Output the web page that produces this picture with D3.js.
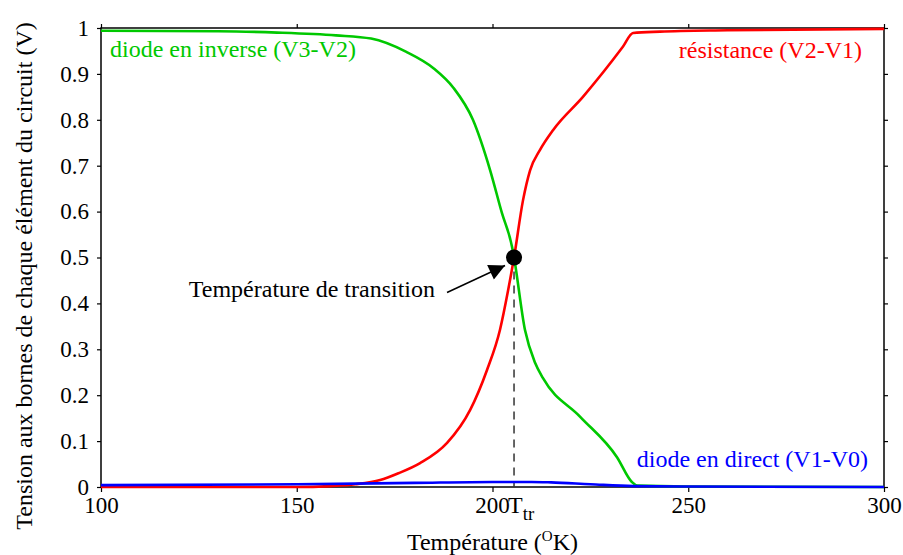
<!DOCTYPE html>
<html>
<head>
<meta charset="utf-8">
<script src="https://cdn.jsdelivr.net/npm/d3@7"></script>
<style>
  html, body { margin: 0; padding: 0; background: #fff; }
  svg { display: block; }
</style>
</head>
<body>
<svg id="chart" width="903" height="555"></svg>
<script>
// Temperature (K) samples and voltages across each circuit element
const tempInverse = [100, 130, 145, 160, 169, 178, 185, 190, 195, 199.4, 202.4, 205.0, 205.5, 208.3, 210.9, 212.9, 222.4, 231.8, 235.6, 237, 250, 300];
const voltInverse = [0.994, 0.993, 0.990, 0.984, 0.977, 0.948, 0.912, 0.870, 0.800, 0.690, 0.597, 0.523, 0.500, 0.342, 0.270, 0.237, 0.153, 0.065, 0.011, 0.003, 0.001, 0.0];

const tempResist = [100, 150, 158.5, 165, 171.3, 176, 181.5, 188.4, 194.3, 198.6, 201.9, 204.0, 205.5, 207.8, 209.6, 212.1, 215.5, 223.1, 233.3, 235.9, 242.8, 260, 300];
const voltResist = [0.0, 0.0, 0.002, 0.006, 0.015, 0.030, 0.052, 0.096, 0.168, 0.255, 0.342, 0.429, 0.500, 0.625, 0.690, 0.734, 0.778, 0.850, 0.959, 0.989, 0.992, 0.995, 0.998];

const tempDirect = [100, 150, 180, 200, 210, 215, 225, 236, 250, 300];
const voltDirect = [0.004, 0.006, 0.009, 0.011, 0.011, 0.010, 0.006, 0.002, 0.001, 0.0];

// Transition point
const tTransition = 205.5;
const vTransition = 0.5;

// Axis ticks
const xTicks = [100, 150, 200, 250, 300];
const xTickLabels = ["100", "150", "200", "250", "300"];
const yTicks = [0, 0.1, 0.2, 0.3, 0.4, 0.5, 0.6, 0.7, 0.8, 0.9, 1];
const yTickLabels = ["0", "0.1", "0.2", "0.3", "0.4", "0.5", "0.6", "0.7", "0.8", "0.9", "1"];

const seriesNames = ["diode en inverse (V3-V2)", "résistance (V2-V1)", "diode en direct (V1-V0)"];
const seriesColors = ["#00c800", "#ff0000", "#0000ff"];

const W = 903, H = 555;
const margin = { top: 28, right: 19, bottom: 68, left: 101 };
const iw = W - margin.left - margin.right;
const ih = H - margin.top - margin.bottom;
const fs = 24;      // labels and titles
const fsTick = 23;  // tick labels
const serif = '"Liberation Serif", serif';

const svg = d3.select("#chart");
const g = svg.append("g").attr("transform", `translate(${margin.left},${margin.top})`);

const x = d3.scaleLinear().domain([100, 300]).range([0, iw]);
const y = d3.scaleLinear().domain([0, 1]).range([ih, 0]);

// Axes on all four sides
function styleAxis(sel) {
  sel.select(".domain").remove();
  sel.selectAll(".tick line").attr("stroke", "#000").attr("stroke-width", 1.2);
}
const axisB = g.append("g").attr("transform", `translate(0,${ih})`)
  .call(d3.axisBottom(x).tickValues(xTicks).tickSize(5).tickFormat((d, i) => d === 200 ? "" : xTickLabels[i]));
styleAxis(axisB);
axisB.selectAll(".tick text").attr("font-size", fsTick).attr("fill", "#000").attr("dy", 0).attr("y", 26);

const axisT = g.append("g").call(d3.axisTop(x).tickValues(xTicks).tickSize(4).tickFormat(""));
styleAxis(axisT);

const axisL = g.append("g").call(d3.axisLeft(y).tickValues(yTicks).tickSize(4).tickFormat((d, i) => yTickLabels[i]));
styleAxis(axisL);
axisL.selectAll(".tick text").attr("font-size", fsTick).attr("fill", "#000").attr("x", -12);

const axisR = g.append("g").attr("transform", `translate(${iw},0)`)
  .call(d3.axisRight(y).tickValues(yTicks).tickSize(4).tickFormat(""));
styleAxis(axisR);

// frame
g.append("rect").attr("width", iw).attr("height", ih)
  .attr("fill", "none").attr("stroke", "#000").attr("stroke-width", 1.5);

// "200" with the transition label T_tr beside it
g.append("text").attr("x", x(200)).attr("y", ih + 26)
  .attr("text-anchor", "middle").attr("font-size", fsTick).text("200");
const tLbl = g.append("text").attr("x", x(tTransition) - 6).attr("y", ih + 26).attr("font-size", fs);
tLbl.append("tspan").text("T");
tLbl.append("tspan").attr("dy", 7).attr("font-size", fs * 0.78).text("tr");

// Curves
const line = d3.line().x(d => x(d[0])).y(d => y(d[1])).curve(d3.curveMonotoneX);
const series = [
  d3.zip(tempInverse, voltInverse),
  d3.zip(tempResist, voltResist),
  d3.zip(tempDirect, voltDirect)
];

// dashed drop line from the transition point
g.append("line")
  .attr("x1", x(tTransition)).attr("x2", x(tTransition))
  .attr("y1", y(vTransition)).attr("y2", ih)
  .attr("stroke", "#333").attr("stroke-width", 1.5).attr("stroke-dasharray", "8,6");

[0, 1, 2].forEach(i => {
  g.append("path").datum(series[i])
    .attr("d", line)
    .attr("fill", "none")
    .attr("stroke", seriesColors[i])
    .attr("stroke-width", 2.6)
    .attr("stroke-linejoin", "round");
});

// transition point
g.append("circle").attr("cx", x(tTransition)).attr("cy", y(vTransition)).attr("r", 8).attr("fill", "#000");

// annotation arrow
svg.append("defs").append("marker")
  .attr("id", "head").attr("viewBox", "0 0 10 10")
  .attr("refX", 10).attr("refY", 5)
  .attr("markerWidth", 30).attr("markerHeight", 16)
  .attr("markerUnits", "userSpaceOnUse")
  .attr("orient", "auto")
  .append("path").attr("d", "M0,0 L10,5 L0,10 Z").attr("fill", "#000");

const px = x(tTransition), py = y(vTransition);
g.append("line")
  .attr("x1", px - 67).attr("y1", py + 35)
  .attr("x2", px - 9).attr("y2", py + 8)
  .attr("stroke", "#000").attr("stroke-width", 1.5)
  .attr("marker-end", "url(#head)");

g.append("text").attr("x", px - 79).attr("y", py + 39)
  .attr("text-anchor", "end").attr("font-size", fs)
  .text("Température de transition");

// series labels
g.append("text").attr("x", 9).attr("y", 29).attr("font-size", fs)
  .attr("fill", seriesColors[0]).text(seriesNames[0]);
g.append("text").attr("x", iw - 22).attr("y", 30).attr("font-size", fs)
  .attr("text-anchor", "end").attr("fill", seriesColors[1]).text(seriesNames[1]);
g.append("text").attr("x", iw - 16).attr("y", ih - 20).attr("font-size", fs)
  .attr("text-anchor", "end").attr("fill", seriesColors[2]).text(seriesNames[2]);

// axis titles
const xt = svg.append("text").attr("x", margin.left + iw / 2).attr("y", 550)
  .attr("text-anchor", "middle").attr("font-size", fs);
xt.append("tspan").text("Température (");
xt.append("tspan").attr("dy", -9).attr("font-size", 15).text("O");
xt.append("tspan").attr("dy", 9).text("K)");

svg.append("text")
  .attr("transform", "translate(32,276) rotate(-90)")
  .attr("text-anchor", "middle").attr("font-size", fs)
  .text("Tension aux bornes de chaque élément du circuit (V)");

// serif face for every label
svg.selectAll("text").style("font-family", serif);
</script>
</body>
</html>
